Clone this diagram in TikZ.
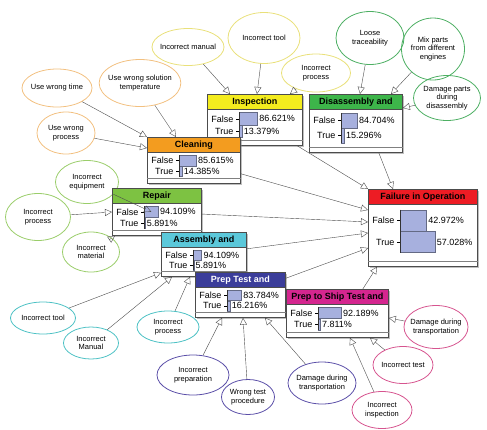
\documentclass[tikz,border=0pt]{standalone}
\usepackage{fontspec}
\setmainfont{Liberation Sans}
\usetikzlibrary{shapes,arrows.meta,calc,positioning,shadows}
\definecolor{hyellow}{HTML}{F4EC1E}
\definecolor{horange}{HTML}{F39C1F}
\definecolor{hgreen}{HTML}{3DB54A}
\definecolor{hred}{HTML}{ED1C24}
\definecolor{hlime}{HTML}{7DC242}
\definecolor{hcyan}{HTML}{5BC8DA}
\definecolor{hblue}{HTML}{3B3D9A}
\definecolor{hpink}{HTML}{D4268F}
\definecolor{barblue}{HTML}{A7B0DE}
\definecolor{cyellow}{HTML}{E9E07A}
\definecolor{corange}{HTML}{F2C080}
\definecolor{cgreen}{HTML}{4DAF63}
\definecolor{clime}{HTML}{9ACD6A}
\definecolor{ccyan}{HTML}{4DC1C4}
\definecolor{cpurple}{HTML}{5B4FA8}
\definecolor{cpink}{HTML}{D6548F}
\tikzset{
    semithick,
    cause/.style ={ellipse, draw=#1, thick, align=center, inner xsep=-3pt, inner ysep=0pt,
        font=\fontsize{7.5}{8.5}\selectfont},
    cptbody/.style = {rectangle, draw=black!70, fill=white, line width=0.8pt, inner sep=0pt,
        drop shadow={shadow xshift=1.5pt, shadow yshift=-1.5pt, opacity=.5}},
    cpthead/.style = {rectangle, draw=black!70, line width=0.8pt, minimum height=15, inner sep=0pt,
        font=\bfseries\fontsize{9}{10}\selectfont},
    cptrow/.style = {inner sep=1.5pt, font=\fontsize{9}{10}\selectfont},
    cptbar/.style = {rectangle, fill=barblue, draw=barblue!60!black, thin, inner sep=0pt},
    link/.style = {-{Triangle[open,length=7pt,width=7pt]}, draw=black!70}
}
% name, top left corner, width, height, header colour, title, false, true, bar scale
\newcommand{\cptbox}[9]{%
  \node[cptbody, minimum width=#3, minimum height=#4, anchor=north west] (#1) at #2 {};
  \node[cpthead, fill=#5, minimum width=#3, anchor=north west] (#1-h) at (#1.north west) {#6};
  \coordinate (#1-f) at ($(#1-h.south west)+(32,{0.25*(#4-15)})$);
  \coordinate (#1-t) at ($(#1-h.south west)+(32,{0.6*(#4-15)})$);
  \node[cptbar, minimum width={#7*#9/100}, minimum height={0.34*(#4-15)}, anchor=west] (#1-fb) at (#1-f) {};
  \node[cptbar, minimum width={#8*#9/100}, minimum height={0.34*(#4-15)}, anchor=west] (#1-tb) at (#1-t) {};
  \node[cptrow, anchor=east] (#1-fl) at ($(#1-f)+(-4,0)$) {False};
  \node[cptrow, anchor=east] (#1-tl) at ($(#1-t)+(-4,0)$) {True};
  \node[cptrow, anchor=west] (#1-fv) at (#1-fb.east) {#7\%};
  \node[cptrow, anchor=west] (#1-tv) at (#1-tb.east) {#8\%};
  \draw[thin] (#1-f) -- ++(-3,0) (#1-t) -- ++(-3,0);
  \draw[thin, black!80] (#1-fb.north west) -- (#1-tb.south west);
  \draw[thin, black!50] ($(#1.south west)+(0,-6)$) -- ($(#1.south east)+(0,-6)$);
}

\begin{document}
\begin{tikzpicture}[x=1pt, y=-1pt]
    \useasboundingbox (0,0) rectangle (487,429);

    % causes
    \node[cause=cyellow, minimum width=72, minimum height=37] (manual) at (188,47) {Incorrect manual};
    \node[cause=cyellow, minimum width=72, minimum height=51] (tool) at (264,38) {Incorrect tool};
    \node[cause=cyellow, minimum width=69, minimum height=38] (iproc) at (316,73) {Incorrect\\process};
    \node[cause=cgreen, minimum width=68, minimum height=53] (loose) at (370,38) {Loose\\traceability};
    \node[cause=cgreen, minimum width=63, minimum height=62] (mix) at (433,49) {Mix parts\\from different\\engines};
    \node[cause=cgreen, minimum width=67, minimum height=45] (dmgdis) at (447,98) {Damage parts\\during\\disassembly};
    \node[cause=corange, minimum width=70, minimum height=38] (wtime) at (57,88) {Use wrong time};
    \node[cause=corange, minimum width=78, minimum height=47] (wtemp) at (140,83) {Use wrong solution\\temperature};
    \node[cause=corange, minimum width=58, minimum height=42] (wproc) at (66,133) {Use wrong\\process};
    \node[cause=clime, minimum width=63, minimum height=43] (equip) at (87,182) {Incorrect\\equipment};
    \node[cause=clime, minimum width=65, minimum height=47] (rproc) at (38,217) {Incorrect\\process};
    \node[cause=clime, minimum width=57, minimum height=40] (material) at (91,252) {Incorrect\\material};
    \node[cause=ccyan, minimum width=65, minimum height=32] (atool) at (43,318) {Incorrect tool};
    \node[cause=ccyan, minimum width=55, minimum height=32] (amanual) at (91,343) {Incorrect\\Manual};
    \node[cause=ccyan, minimum width=62, minimum height=32] (aproc) at (168,327) {Incorrect\\process};
    \node[cause=cpurple, minimum width=72, minimum height=40] (prepn) at (193,375) {Incorrect\\preparation};
    \node[cause=cpurple, minimum width=53, minimum height=35] (wtest) at (248,397) {Wrong test\\procedure};
    \node[cause=cpurple, minimum width=68, minimum height=42] (ptrans) at (322,383) {Damage during\\transportation};
    \node[cause=cpink, minimum width=63, minimum height=43] (strans) at (436,327) {Damage during\\transportation};
    \node[cause=cpink, minimum width=60, minimum height=37] (stest) at (403,365) {Incorrect test};
    \node[cause=cpink, minimum width=60, minimum height=37] (sinsp) at (382,410) {Incorrect\\inspection};

    % monitors
    \cptbox{insp}{(207,94)}{95}{51}{hyellow}{Inspection}{86.621}{13.379}{21}
    \cptbox{dis}{(309,94)}{93}{58}{hgreen}{Disassembly and}{84.704}{15.296}{19}
    \cptbox{clean}{(147,137)}{93}{46}{horange}{Cleaning}{85.615}{14.385}{20}
    \cptbox{fail}{(368,189)}{109}{77}{hred}{Failure in Operation}{42.972}{57.028}{61}
    \cptbox{repair}{(112,188)}{89}{47}{hlime}{Repair}{94.109}{5.891}{15}
    \cptbox{asm}{(161,232)}{85}{44}{hcyan}{Assembly and}{94.109}{5.891}{9}
    \cptbox{prep}{(195,272)}{90}{45}{hblue}{\color{white}Prep Test and}{83.784}{16.216}{17}
    \cptbox{ship}{(286,289)}{102}{48}{hpink}{Prep to Ship Test and}{92.189}{7.811}{25}

    % links
    \draw[link] (manual) -- ($(insp.north west)+(23,0)$);
    \draw[link] (tool) -- ($(insp.north west)+(50,0)$);
    \draw[link] (iproc) -- ($(insp.north west)+(83,0)$);
    \draw[link] (loose) -- ($(dis.north west)+(51,0)$);
    \draw[link] (mix) -- ($(dis.north west)+(82,0)$);
    \draw[link] (dmgdis) -- ($(dis.north east)+(0,14)$);
    \draw[link] (wtime) -- (clean.north west);
    \draw[link] (wtemp) -- ($(clean.north west)+(29,0)$);
    \draw[link] (wproc) -- ($(clean.north west)+(0,11)$);
    \draw[link] (equip) -- (repair-fb.center);
    \draw[link] (rproc) -- ($(repair.north west)+(0,24)$);
    \draw[link] (material) -- ($(repair.south west)+(3,0)$);
    \draw[link] (atool) -- ($(asm.south west)+(0,-4)$);
    \draw[link] (amanual) -- ($(asm.south west)+(11,0)$);
    \draw[link] (aproc) -- ($(asm.south west)+(29,0)$);
    \draw[link] (prepn) -- ($(prep.south west)+(27,0)$);
    \draw[link] (wtest) -- ($(prep.south west)+(48,0)$);
    \draw[link] (ptrans) -- ($(prep.south west)+(70,0)$);
    \draw[link] (strans) -- ($(ship.north east)+(0,29)$);
    \draw[link] (stest) -- ($(ship.south west)+(84,0)$);
    \draw[link] (sinsp) -- ($(ship.south west)+(64,0)$);

    \draw[link] (insp) -- (fail.north west);
    \draw[link] ($(dis.south east)+(-24,0)$) -- ($(fail.north west)+(25,0)$);
    \draw[link] (clean) -- ($(fail.north west)+(0,21)$);
    \draw[link] (repair) -- ($(fail.north west)+(0,33)$);
    \draw[link] (asm) -- ($(fail.north west)+(0,44)$);
    \draw[link] (prep) -- ($(fail.north west)+(0,59)$);
    \draw[link] ($(ship.north east)+(-26,0)$) -- ($(fail.south west)+(9,0)$);
\end{tikzpicture}
\end{document}
